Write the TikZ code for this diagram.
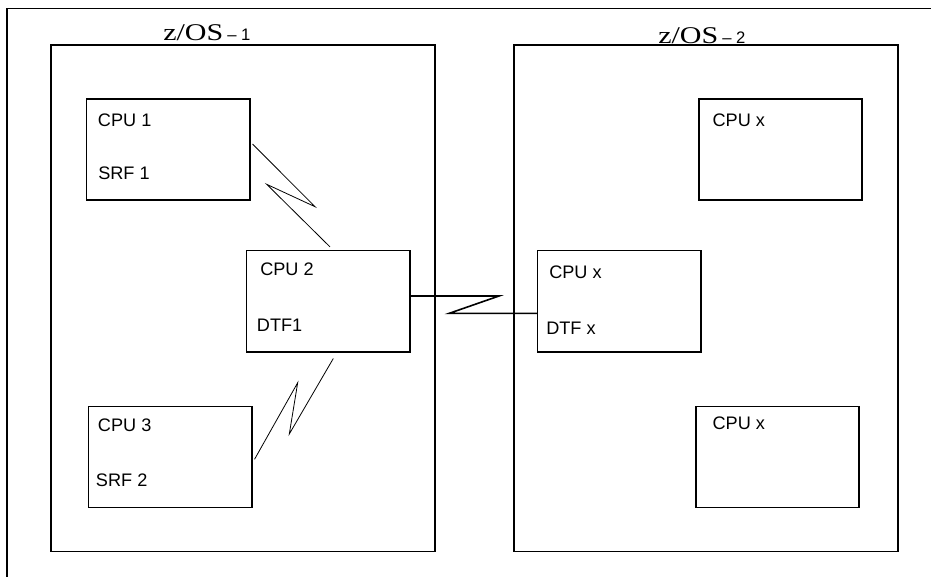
\documentclass[tikz,border=0pt]{standalone}
\usepackage{fontspec}
\setmainfont{Liberation Serif}
\setsansfont{Liberation Sans}
\newfontfamily\osfont[FakeStretch=1.25]{Liberation Serif}
\usetikzlibrary{calc}

\begin{document}
\begin{tikzpicture}[x=0.75pt,y=-0.75pt,
  sysbox/.style={draw,line width=1.2pt,inner sep=0,minimum width=288pt,minimum height=380pt},
  cpubox/.style={draw,line width=1.2pt,inner sep=0,minimum width=122.6pt,minimum height=75.75pt},
  lbl/.style={anchor=base west,inner sep=0,font=\sffamily\fontsize{13.6}{16}\selectfont},
  ttl/.style={anchor=base west,inner sep=0},
  link/.style={line width=0.6pt},
  bus/.style={line width=1.2pt}]
\useasboundingbox (0,0) rectangle (931,577);
\draw[line width=1.2pt] (931,8.7) -| (6.7,577);
\node [sysbox] (sys1) at (242.8,298.3) {};
\node [sysbox] (sys2) at (705.8,298.3) {};
\node [ttl] (os1) at (163,40.7) {\osfont\fontsize{18}{20}\selectfont z/OS\hspace{3pt}\sffamily\fontsize{12.5}{14}\selectfont -- 1};
\node [ttl] (os2) at (658,43.3) {\osfont\fontsize{18}{20}\selectfont z/OS\hspace{3pt}\sffamily\fontsize{12.5}{14}\selectfont -- 2};
\node [cpubox] (cpu1) at (168.3,149.7) {};
\node [cpubox] (cpu2) at (328.3,301.2) {};
\node [cpubox] (cpu3) at (170.3,457) {};
\node [cpubox] (cpuxa) at (780.5,149.7) {};
\node [cpubox] (cpuxb) at (619.3,301.2) {};
\node [cpubox] (cpuxc) at (777.5,457) {};
\node [lbl] (cpu1t) at (97.7,126.5) {CPU 1};
\node [lbl] (srf1t) at (98,180) {SRF 1};
\node [lbl] (cpu2t) at (260,275.5) {CPU 2};
\node [lbl] (dtf1t) at (256.7,331.5) {DTF1};
\node [lbl] (cpu3t) at (97.7,431.5) {CPU 3};
\node [lbl] (srf2t) at (95.7,486.7) {SRF 2};
\node [lbl] (cpuxat) at (712.3,126.7) {CPU x};
\node [lbl] (cpuxbt) at (549,278.3) {CPU x};
\node [lbl] (dtfxt) at (546,334) {DTF x};
\node [lbl] (cpuxct) at (712.3,429.3) {CPU x};
\draw [link] ($(cpu1.east)+(1.7,-5.7)$) -- (315,206.7) -- (266.7,184.3) -- ($(cpu2.north)+(1.7,-3)$);
\draw [link] ($(cpu2.south)+(5,6)$) -- (289.3,434) -- (297.7,382.7) -- ($(cpu3.east)+(1.7,2.3)$);
\draw [bus] ($(cpu2.east)+(0,-5.2)$) -- (499,296) -- (449.3,313.3) -- ($(cpuxb.west)+(0,12.1)$);
\end{tikzpicture}
\end{document}
